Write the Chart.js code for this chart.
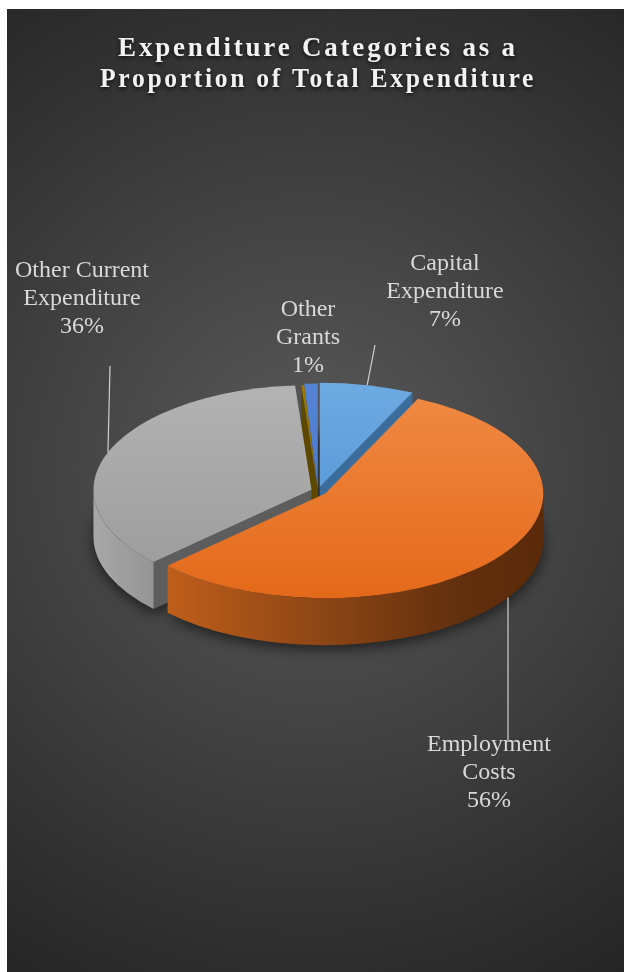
<!DOCTYPE html>
<html>
<head>
<meta charset="utf-8">
<script src="https://cdn.jsdelivr.net/npm/chart.js@4.4.1/dist/chart.umd.min.js"></script>
<style>
  html, body { margin: 0; padding: 0; background: #ffffff; }
  #chart-box { position: absolute; left: 0; top: 0; width: 624px; height: 972px; }
</style>
</head>
<body>
<div id="chart-box"><canvas id="myChart"></canvas></div>
<script>
// expenditure shares (percent of total); the fourth one is an unlabelled sliver
var categories = ['Capital Expenditure', 'Employment Costs', 'Other Current Expenditure', '', 'Other Grants'];
var shares = [7, 56, 36, 0.2, 1];
var labelLines = [['Capital', 'Expenditure'], ['Employment', 'Costs'], ['Other Current', 'Expenditure'], [], ['Other', 'Grants']];

// look of the 3d pie
var TILT = 0.48;      // vertical squash of the disc
var DEPTH = 47;       // thickness of the disc in px
var explode = [8, 9, 7, 3, 6];
var topColors = [['#6eaae2', '#4a8ed2'], ['#f08a44', '#e4691a'], ['#b3b3b3', '#9a9a9a'], ['#a07c00', '#7a5d00'], ['#5683d6', '#4472c4']];
var sideColors = ['#3a6d9c', '#7a3c12', '#5d5d5d', '#5e4800', '#2e4d86'];
var wallStops = [
  [[0, '#3f78b0'], [1, '#2c5f8f']],
  [[0, '#d06a20'], [0.14, '#bf5e1b'], [0.5, '#8b4515'], [0.8, '#63300e'], [1, '#5a2a0a']],
  [[0, '#a8a8a8'], [0.15, '#939393'], [1, '#808080']],
  [[0, '#8a6a00'], [1, '#6b5200']],
  [[0, '#3a62ad'], [1, '#2f4f8a']]
];
// where each label block sits and where its leader line leaves it;
// drop: the leader falls straight down onto the front wall
var labelBoxes = [
  {x: 445, y: 264, lx: 375, ly: 345},
  {x: 489, y: 745, lx: 508, ly: 740, drop: true},
  {x: 82, y: 271, lx: 110, ly: 366},
  null,
  {x: 308, y: 310}
];

function sliceGeometry(chart){
  var arcs = chart.getDatasetMeta(0).data;
  return arcs.map(function(arc, i){
    var p = arc.getProps(['x', 'y', 'startAngle', 'endAngle', 'outerRadius']);
    var mid = (p.startAngle + p.endAngle) / 2;
    var rx = p.outerRadius;
    return {
      i: i, a0: p.startAngle, a1: p.endAngle, mid: mid, rx: rx, ry: rx * TILT,
      cx: p.x + explode[i] * Math.cos(mid),
      cy: p.y + explode[i] * Math.sin(mid) * TILT
    };
  });
}

function sectorPath(ctx, s, dy){
  ctx.beginPath();
  ctx.moveTo(s.cx, s.cy + dy);
  ctx.ellipse(s.cx, s.cy + dy, s.rx, s.ry, 0, s.a0, s.a1, false);
  ctx.closePath();
}

function radialFace(ctx, s, a){
  var ex = s.cx + s.rx * Math.cos(a), ey = s.cy + s.ry * Math.sin(a);
  ctx.beginPath();
  ctx.moveTo(s.cx, s.cy);
  ctx.lineTo(ex, ey);
  ctx.lineTo(ex, ey + DEPTH);
  ctx.lineTo(s.cx, s.cy + DEPTH);
  ctx.closePath();
  ctx.fillStyle = sideColors[s.i];
  ctx.fill();
}

function drawSlice(ctx, s){
  // cut faces that turn towards the viewer
  if (Math.cos(s.a0) < 0) radialFace(ctx, s, s.a0);
  if (Math.cos(s.a1) > 0) radialFace(ctx, s, s.a1);

  // curved outer wall on the front half
  var b0 = Math.max(s.a0, 0), b1 = Math.min(s.a1, Math.PI);
  if (b0 < b1){
    var g = ctx.createLinearGradient(s.cx - s.rx, 0, s.cx + s.rx, 0);
    wallStops[s.i].forEach(function(st){ g.addColorStop(st[0], st[1]); });
    ctx.beginPath();
    ctx.ellipse(s.cx, s.cy, s.rx, s.ry, 0, b0, b1, false);
    ctx.ellipse(s.cx, s.cy + DEPTH, s.rx, s.ry, 0, b1, b0, true);
    ctx.closePath();
    ctx.fillStyle = g;
    ctx.fill();
  }

  // top face
  var t = ctx.createLinearGradient(0, s.cy - s.ry, 0, s.cy + s.ry);
  t.addColorStop(0, topColors[s.i][0]);
  t.addColorStop(1, topColors[s.i][1]);
  sectorPath(ctx, s, 0);
  ctx.fillStyle = t;
  ctx.fill();
}

function leaderAnchor(s, box){
  if (box.drop){
    var u = (box.lx - s.cx) / s.rx;
    return {x: box.lx, y: s.cy + s.ry * Math.sqrt(Math.max(0, 1 - u * u)) + DEPTH};
  }
  return {
    x: s.cx + s.rx * Math.cos(s.mid),
    y: s.cy + s.ry * Math.sin(s.mid) + (Math.sin(s.mid) > 0 ? DEPTH : 0)
  };
}

var pie3d = {
  id: 'pie3d',
  beforeDraw: function(chart){
    var ctx = chart.ctx;
    ctx.save();
    var bg = ctx.createRadialGradient(310, 470, 0, 310, 470, 600);
    bg.addColorStop(0, '#5a5a5a');
    bg.addColorStop(1, '#242424');
    ctx.fillStyle = bg;
    ctx.fillRect(7, 9, chart.width - 7, chart.height - 9);
    ctx.restore();
    // picked up by the title box, which is drawn right after this hook
    ctx.letterSpacing = '2.8px';
    ctx.shadowColor = 'rgba(0,0,0,0.75)';
    ctx.shadowBlur = 4;
    ctx.shadowOffsetY = 2;
  },
  beforeDatasetsDraw: function(chart){
    var ctx = chart.ctx;
    ctx.letterSpacing = '0px';
    ctx.shadowColor = 'rgba(0,0,0,0)';
    ctx.shadowBlur = 0;
    ctx.shadowOffsetY = 0;

    var slices = sliceGeometry(chart);

    // soft shadow under the disc
    ctx.save();
    ctx.filter = 'blur(7px)';
    ctx.fillStyle = 'rgba(0,0,0,0.6)';
    slices.forEach(function(s){ sectorPath(ctx, s, DEPTH + 4); ctx.fill(); });
    ctx.restore();

    // back to front
    slices.slice().sort(function(a, b){ return Math.sin(a.mid) - Math.sin(b.mid); })
      .forEach(function(s){ drawSlice(ctx, s); });

    // data labels with leader lines
    var total = shares.reduce(function(a, b){ return a + b; }, 0);
    ctx.save();
    ctx.font = '24px "Liberation Serif", "Times New Roman", serif';
    ctx.fillStyle = '#d9d9d9';
    ctx.textAlign = 'center';
    ctx.textBaseline = 'middle';
    slices.forEach(function(s){
      var box = labelBoxes[s.i];
      if (!box) return;
      var lines = labelLines[s.i].concat([Math.round(shares[s.i] / total * 100) + '%']);
      lines.forEach(function(line, k){ ctx.fillText(line, box.x, box.y + k * 28); });
      if (box.lx !== undefined){
        var a = leaderAnchor(s, box);
        ctx.strokeStyle = '#cfcfcf';
        ctx.lineWidth = 1.2;
        ctx.beginPath();
        ctx.moveTo(box.lx, box.ly);
        ctx.lineTo(a.x, a.y);
        ctx.stroke();
      }
    });
    ctx.restore();
    return false;
  }
};

var chart = new Chart(document.getElementById('myChart'), {
  type: 'pie',
  data: {
    labels: categories,
    datasets: [{
      data: shares,
      backgroundColor: topColors.map(function(c){ return c[1]; }),
      borderWidth: 0
    }]
  },
  options: {
    responsive: true,
    maintainAspectRatio: false,
    animation: false,
    events: [],
    layout: { padding: { left: 100, right: 88, top: 9, bottom: 263 } },
    plugins: {
      legend: { display: false },
      tooltip: { enabled: false },
      title: {
        display: true,
        text: ['Expenditure Categories as a', 'Proportion of Total Expenditure'],
        color: '#f2f2f2',
        font: { family: '"Liberation Serif", "Times New Roman", serif', size: 27, weight: 'bold', lineHeight: 1.13 },
        padding: { top: 25, bottom: 178 }
      }
    }
  },
  plugins: [pie3d]
});
</script>
</body>
</html>
